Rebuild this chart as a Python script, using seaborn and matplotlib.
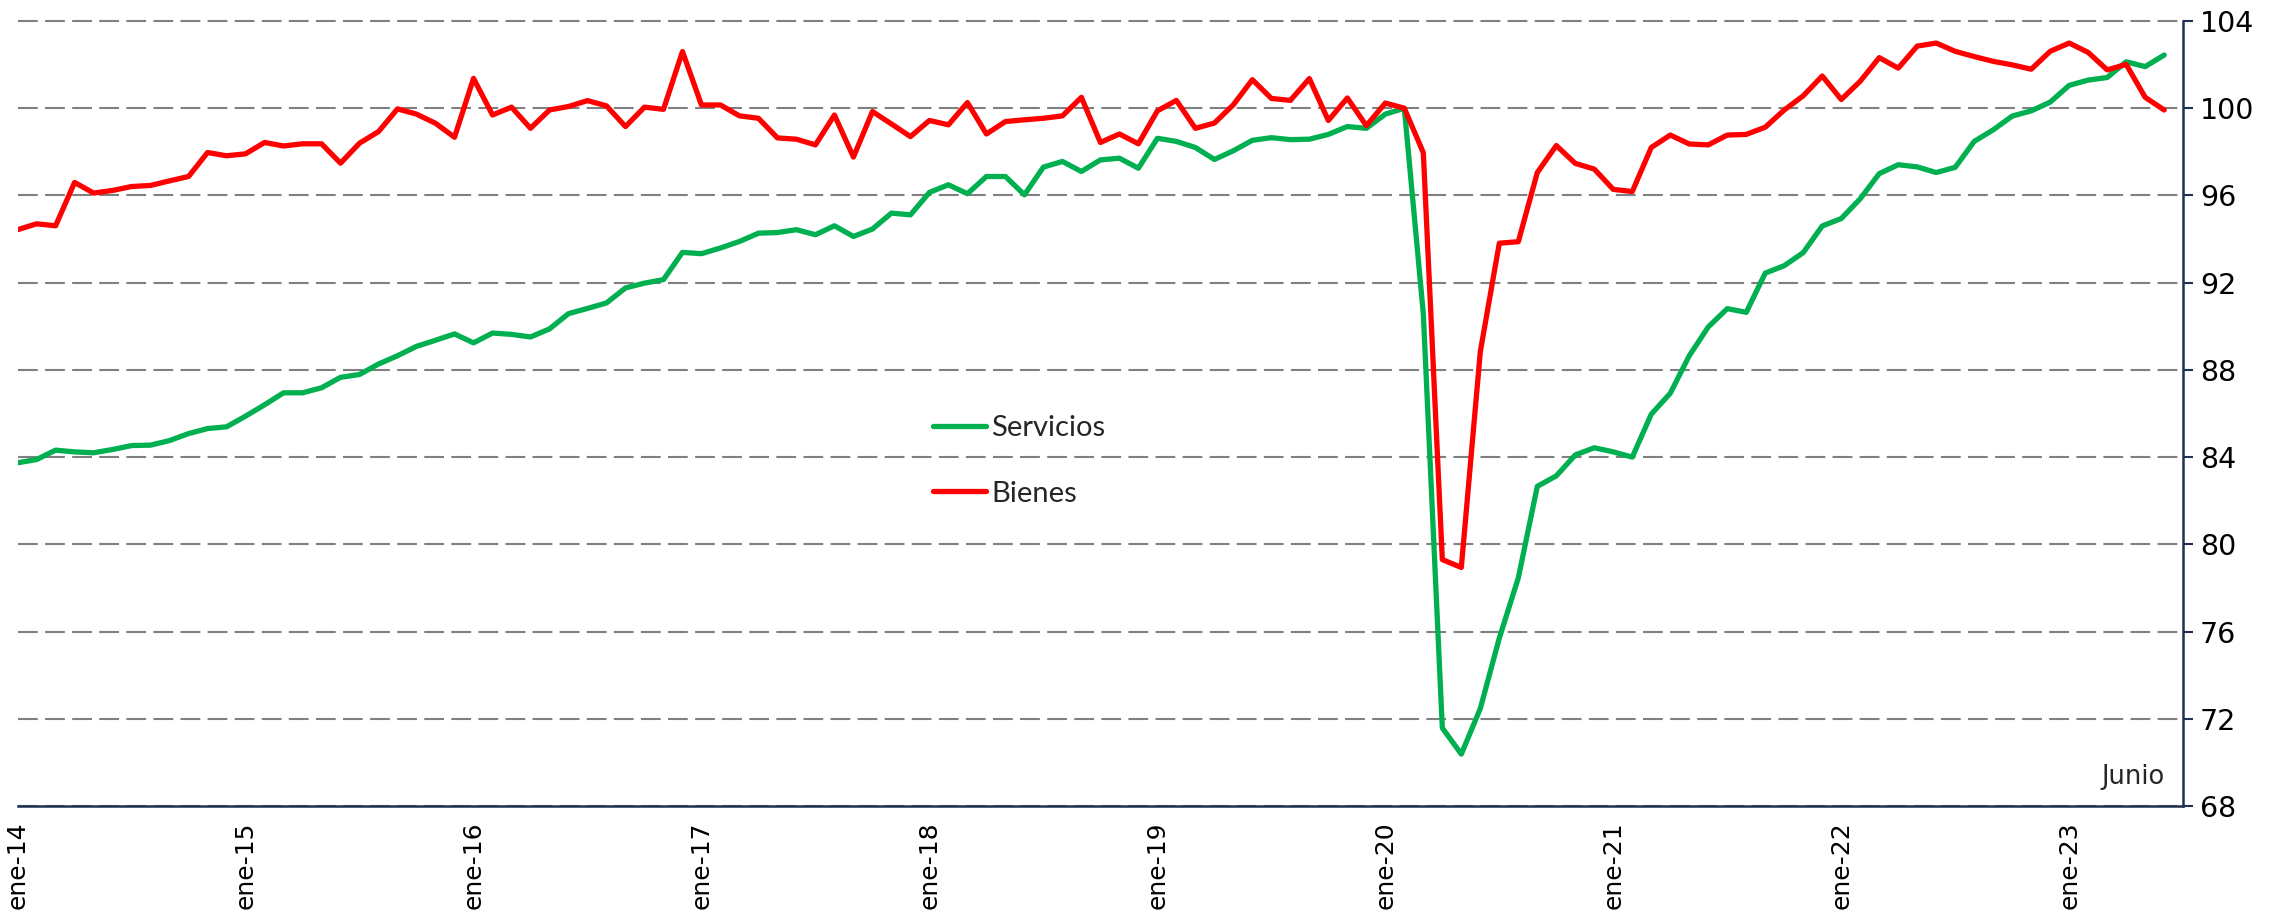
import numpy as np
import pandas as pd
import matplotlib
matplotlib.use("Agg")
import matplotlib.pyplot as plt
import seaborn as sns

# Monthly index, ene-2014 .. jun-2023
months = list(range(114))

servicios = [
    83.74, 83.89, 84.32, 84.24, 84.20, 84.35, 84.53, 84.55, 84.76, 85.08,
    85.31, 85.39, 85.88, 86.40, 86.95, 86.95, 87.18, 87.66, 87.79, 88.27,
    88.65, 89.08, 89.36, 89.65, 89.24, 89.69, 89.63, 89.51, 89.88, 90.58,
    90.82, 91.07, 91.76, 91.98, 92.14, 93.39, 93.33, 93.59, 93.89, 94.27,
    94.30, 94.43, 94.20, 94.61, 94.12, 94.46, 95.19, 95.11, 96.14, 96.49,
    96.08, 96.87, 96.87, 96.03, 97.30, 97.56, 97.10, 97.63, 97.71, 97.25,
    98.62, 98.48, 98.20, 97.65, 98.05, 98.53, 98.65, 98.56, 98.58, 98.80,
    99.16, 99.08, 99.73, 100.00, 90.57, 71.58, 70.38, 72.47, 75.70, 78.46,
    82.66, 83.14, 84.10, 84.43, 84.24, 84.00, 85.97, 86.93, 88.65, 89.97,
    90.81, 90.64, 92.44, 92.78, 93.38, 94.60, 94.94, 95.85, 97.00, 97.41,
    97.31, 97.05, 97.29, 98.48, 99.01, 99.64, 99.88, 100.28, 101.05, 101.29,
    101.41, 102.13, 101.91, 102.44,
]

bienes = [
    94.43, 94.70, 94.61, 96.60, 96.11, 96.23, 96.41, 96.46, 96.67, 96.87,
    97.97, 97.82, 97.91, 98.43, 98.27, 98.37, 98.37, 97.48, 98.40, 98.93,
    99.97, 99.73, 99.31, 98.67, 101.37, 99.69, 100.05, 99.08, 99.92, 100.08,
    100.35, 100.11, 99.16, 100.05, 99.95, 102.60, 100.15, 100.15, 99.65, 99.54,
    98.64, 98.58, 98.32, 99.69, 97.76, 99.85, 99.28, 98.70, 99.44, 99.24,
    100.26, 98.82, 99.39, 99.47, 99.54, 99.65, 100.50, 98.43, 98.82, 98.37,
    99.88, 100.36, 99.08, 99.32, 100.16, 101.31, 100.45, 100.36, 101.36, 99.44,
    100.47, 99.20, 100.24, 100.00, 97.96, 79.30, 78.94, 88.84, 93.81, 93.88,
    97.05, 98.29, 97.47, 97.21, 96.28, 96.18, 98.20, 98.77, 98.36, 98.32,
    98.77, 98.80, 99.13, 99.92, 100.57, 101.48, 100.40, 101.24, 102.32, 101.84,
    102.85, 102.99, 102.61, 102.37, 102.15, 101.99, 101.79, 102.61, 102.99, 102.56,
    101.76, 102.01, 100.50, 99.92,
]

tick_months = [0, 12, 24, 36, 48, 60, 72, 84, 96, 108]
tick_labels = ["ene-14", "ene-15", "ene-16", "ene-17", "ene-18",
               "ene-19", "ene-20", "ene-21", "ene-22", "ene-23"]
y_ticks = [68, 72, 76, 80, 84, 88, 92, 96, 100, 104]
series_names = ["Servicios", "Bienes"]
colors = {"Servicios": "#00B050", "Bienes": "#FF0000"}

df = pd.DataFrame({
    "mes": months * 2,
    "valor": servicios + bienes,
    "serie": ["Servicios"] * len(months) + ["Bienes"] * len(months),
})

sns.set_style("white")
plt.rcParams["font.family"] = ["DejaVu Sans"]

fig = plt.figure(figsize=(22.87, 9.22), dpi=100)
ax = fig.add_axes([0.0077, 0.1258, 0.9469, 0.8514])

sns.lineplot(data=df, x="mes", y="valor", hue="serie", hue_order=series_names,
             palette=colors, linewidth=3.8, ax=ax, legend=False)

axis_col = "#1F3050"
ax.set_xlim(0, 114)
ax.set_ylim(68, 104)
ax.set_yticks(y_ticks)
ax.set_yticklabels([str(v) for v in y_ticks], fontsize=20.5)
ax.set_xticks(tick_months)
ax.set_xticklabels(tick_labels, rotation=90, fontsize=18)
ax.yaxis.tick_right()
ax.tick_params(axis="y", direction="out", length=7, width=1.5, color=axis_col, pad=5, labelcolor="black")
ax.tick_params(axis="x", direction="out", length=7, width=1.5, color=axis_col, pad=4, labelcolor="black")
ax.set_xlabel("")
ax.set_ylabel("")

for s in ["left", "top"]:
    ax.spines[s].set_visible(False)
for s in ["right", "bottom"]:
    ax.spines[s].set_visible(True)
    ax.spines[s].set_color(axis_col)
    ax.spines[s].set_linewidth(1.8)

ax.yaxis.grid(True, color="#808080", linewidth=1.5, linestyle=(0, (9.5, 3.5)))
ax.xaxis.grid(False)
ax.set_axisbelow(True)
for gl in ax.get_ygridlines():
    gl.set_clip_on(False)

ax.text(113, 69.35, "Junio", ha="right", va="center", fontsize=18.5)

from matplotlib.lines import Line2D
handles = [Line2D([0], [0], color=colors[n], linewidth=3.8, solid_capstyle="round") for n in series_names]
fig.legend(handles, series_names, loc="center left", bbox_to_anchor=(0.408, 0.5),
           frameon=False, handlelength=1.8, handletextpad=0.2,
           labelspacing=1.35, borderpad=0, borderaxespad=0,
           prop={"family": "Lato", "size": 21})

fig.savefig("out.png", dpi=100)
